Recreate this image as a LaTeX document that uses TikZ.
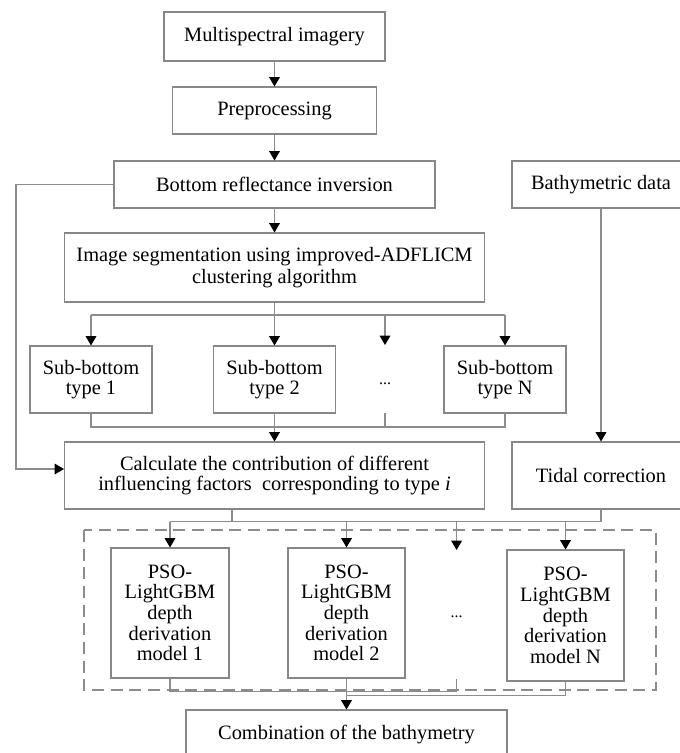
\documentclass[tikz,border=0pt]{standalone}
\usepackage{fontspec}
\setmainfont{Liberation Serif}
\usetikzlibrary{arrows.meta,calc}
\definecolor{boxgray}{RGB}{135,135,135}
\definecolor{linegray}{RGB}{140,140,140}
\begin{document}
\begin{tikzpicture}[x=0.75pt,y=-0.75pt,
  lc/.style={draw=linegray, line width=0.8pt},
  arr/.style={lc, -{Triangle[width=8pt,length=7pt,color=black]}},
  bx/.style 2 args={draw=boxgray, line width=0.8pt, minimum width=#1*0.75pt,
    minimum height=#2*0.75pt, align=center, inner sep=0pt,
    font=\fontsize{15.3}{15.5}\selectfont},
  dots/.style={inner sep=0pt, font=\fontsize{12}{12}\selectfont},
  grp/.style={draw=linegray, line width=0.9pt, dash pattern=on 9pt off 5pt}
]
\useasboundingbox (0,0) rectangle (680,753);
\clip (0,0) rectangle (680,753);
\fill[white] (0,0) rectangle (680,753);

% nodes
\node[bx={221}{49}] (ms) at (274.5,36.5) {Multispectral imagery};
\node[bx={204}{47}] (pre) at (274.5,110.5) {Preprocessing};
\node[bx={321}{47}] (bri) at (274.5,184.5) {Bottom reflectance inversion};
\node[bx={178}{47}] (bath) at (601,184.5) {Bathymetric data};
\node[bx={420}{69}] (seg) at (274.5,267.5) {Image segmentation using improved-ADFLICM\\[1.5pt]clustering algorithm};
\node[bx={122}{67}] (sb1) at (91,379.5) {Sub-bottom\\type 1};
\node[bx={122}{67}] (sb2) at (274.5,379.5) {Sub-bottom\\type 2};
\node[dots] (d1) at (385,384) {...};
\node[bx={122}{67}] (sbN) at (505,379.5) {Sub-bottom\\type N};
\node[bx={420}{67}] (calc) at (274.5,475.5) {Calculate the contribution of different\\influencing factors\ \ corresponding to type \textit{i}};
\node[bx={178}{67}] (tid) at (601,475.5) {Tidal correction};
\node[bx={118}{130}] (p1) at (170,613) {PSO-\\LightGBM\\depth\\derivation\\model 1};
\node[bx={117}{130}] (p2) at (346.5,613) {PSO-\\LightGBM\\depth\\derivation\\model 2};
\node[dots] (d2) at (456.6,617) {...};
\node[bx={117}{131}] (pN) at (565.5,615.5) {PSO-\\LightGBM\\depth\\derivation\\model N};
\node[bx={321}{50}] (comb) at (346.5,735) {Combination of the bathymetry};

% dashed group
\draw[grp] (84,530) rectangle (656,690);

% junction coordinates
\coordinate (j1) at (274.5,315);
\coordinate (d1top) at (385,345);
\coordinate (d1bot) at (385,413);
\coordinate (j2) at (274.5,427);
\coordinate (lj) at (16,469);
\coordinate (j3) at (232,521.7);
\coordinate (d2top) at (456.6,550);
\coordinate (d2bot) at (456.6,679);
\coordinate (j4) at (346.5,691.7);
\coordinate (j5) at (346.5,695.7);

% connectors
\draw[arr] (ms) -- (pre);
\draw[arr] (pre) -- (bri);
\draw[arr] (bri) -- (seg);
\draw[arr] (bath) -- (tid);

\draw[lc] (seg.south) -- (j1);
\draw[lc] (sb1.north |- j1) -- (sbN.north |- j1);
\draw[arr] (sb1.north |- j1) -- (sb1.north);
\draw[arr] (j1) -- (sb2.north);
\draw[arr] (d1top |- j1) -- (d1top);
\draw[arr] (sbN.north |- j1) -- (sbN.north);

\draw[lc] (sb1.south) -- (sb1.south |- j2) -- (sbN.south |- j2) -- (sbN.south);
\draw[lc] (sb2.south) -- (j2);
\draw[lc] (d1bot) -- (d1bot |- j2);
\draw[arr] (j2) -- (calc.north);

\draw[arr] (bri.west) -| (lj) -- (calc.west |- lj);

\draw[lc] (calc.south -| j3) -- (j3);
\draw[lc] (p1.north |- j3) -- (tid.south |- j3) -- (tid.south);
\draw[arr] (p1.north |- j3) -- (p1.north);
\draw[arr] (p2.north |- j3) -- (p2.north);
\draw[arr] (d2top |- j3) -- (d2top);
\draw[arr] (pN.north |- j3) -- (pN.north);

\draw[lc] (p1.south) -- (p1.south |- j4) -- (d2bot |- j4) -- (d2bot);
\draw[lc] (pN.south) -- (pN.south |- j5) -- (j5);
\draw[arr] (p2.south) -- (comb.north);
\end{tikzpicture}
\end{document}
